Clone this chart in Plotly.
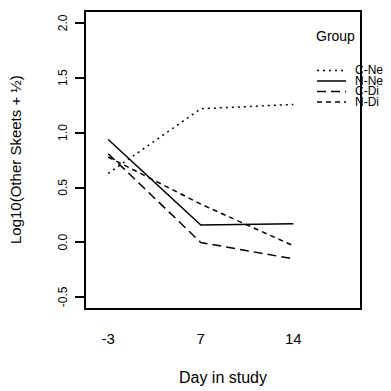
import plotly.graph_objects as go

days = ["-3", "7", "14"]
groups = ["C-Ne", "N-Ne", "C-Di", "N-Di"]
c_ne = [0.63, 1.22, 1.26]
n_ne = [0.94, 0.16, 0.17]
c_di = [0.81, 0.00, -0.15]
n_di = [0.78, 0.35, -0.03]
y_tickvals = [-0.5, 0.0, 0.5, 1.0, 1.5, 2.0]
y_ticktext = ["-0.5", "0.0", "0.5", "1.0", "1.5", "2.0"]

series = [c_ne, n_ne, c_di, n_di]
dashes = ["2px,4px", "solid", "9px,5px", "5px,4px"]

FONT = "Liberation Sans, Arial, sans-serif"

fig = go.Figure()
for name, vals, dash in zip(groups, series, dashes):
    fig.add_trace(go.Scatter(
        x=days, y=vals, mode="lines", name=name, showlegend=False,
        line=dict(color="black", width=1.5, dash=dash),
    ))

# plot area on screen (page has an 8px body margin)
OFF = 8
L, W, T, H = 86, 274, 11, 296


def px_x(p):
    return (p - L) / W


def px_y(p):
    return (T + H - p) / H


shapes = []
annotations = [dict(
    x=px_x(314), y=px_y(35), xref="paper", yref="paper", xanchor="left", yanchor="middle",
    text="Group", showarrow=False, font=dict(family=FONT, size=14, color="black"))]
rows = [69.5, 80, 90.5, 101]
for name, dash, r in zip(groups, dashes, rows):
    shapes.append(dict(type="line", xref="paper", yref="paper",
                       x0=px_x(317), x1=px_x(346), y0=px_y(r), y1=px_y(r),
                       line=dict(color="black", width=1.5, dash=dash)))
    annotations.append(dict(
        x=px_x(353), y=px_y(r), xref="paper", yref="paper", xanchor="left", yanchor="middle",
        text=name, showarrow=False, font=dict(family=FONT, size=12, color="black")))

# rotated y tick labels (parallel to the axis)
for v, t in zip(y_tickvals, y_ticktext):
    annotations.append(dict(
        x=px_x(63), y=v, xref="paper", yref="y", xanchor="center", yanchor="middle",
        text=t, textangle=-90, showarrow=False,
        font=dict(family=FONT, size=12, color="black")))

# y axis title
annotations.append(dict(
    x=px_x(15), y=0.5, xref="paper", yref="paper", xanchor="center", yanchor="middle",
    text="Log10(Other Skeets + ½)", textangle=-90, showarrow=False,
    font=dict(family=FONT, size=15, color="black")))

fig.update_layout(
    width=391, height=391,
    margin=dict(l=L - OFF, r=391 - (L - OFF) - W, t=T - OFF + 1, b=391 - (T - OFF + 1) - H,
                autoexpand=False),
    paper_bgcolor="white", plot_bgcolor="white",
    font=dict(family=FONT, color="black"),
    shapes=shapes, annotations=annotations,
    xaxis=dict(
        type="category", range=[-0.24, 2.72], showgrid=False, zeroline=False,
        showline=True, mirror=True, linecolor="black", linewidth=1.5,
        ticks="", tickfont=dict(size=15), ticklabelstandoff=16,
        title=dict(text="Day in study", font=dict(size=16), standoff=26),
        automargin=False,
    ),
    yaxis=dict(
        range=[-0.598, 2.103], showgrid=False, zeroline=False,
        showline=True, mirror=True, linecolor="black", linewidth=1.5,
        ticks="outside", ticklen=9, tickwidth=1.5, tickcolor="black",
        tickvals=y_tickvals, showticklabels=False,
        automargin=False,
    ),
)

fig.write_html("out.html")
